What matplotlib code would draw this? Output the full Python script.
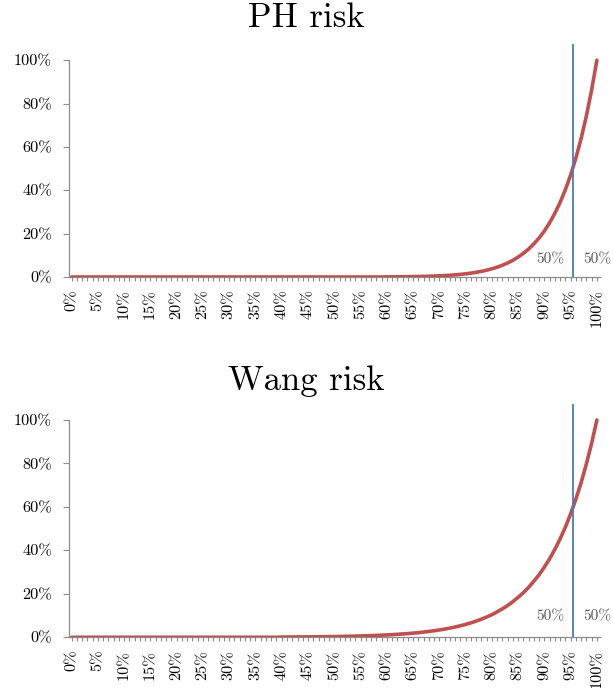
import numpy as np
import matplotlib.pyplot as plt

plt.rcParams['font.family'] = ['cmr10', 'DejaVu Serif']
plt.rcParams['axes.formatter.use_mathtext'] = True

# confidence levels 0%..100% in 1% steps
levels = list(range(0, 101))

# PH risk curve, values from 60% to 100% (earlier ones are ~0)
ph_tail = [0.00055, 0.0007, 0.00089, 0.00112, 0.00141, 0.00178, 0.00222, 0.00278,
           0.00345, 0.00427, 0.00528, 0.0065, 0.008, 0.0098, 0.012, 0.0146,
           0.0177, 0.0215, 0.0259, 0.0313, 0.0376, 0.0451, 0.0541, 0.0646,
           0.0771, 0.0917, 0.109, 0.129, 0.153, 0.180, 0.212, 0.250, 0.294,
           0.344, 0.403, 0.470, 0.549, 0.639, 0.743, 0.863, 1.0]
ph_values = [0.0] * 60 + ph_tail

# Wang risk curve, values from 40% to 100%
wang_tail = [0.0011, 0.0012, 0.0014, 0.0016, 0.0017, 0.0019, 0.0022, 0.0024,
             0.0027, 0.0031, 0.0035, 0.0039, 0.0044, 0.0049, 0.0055, 0.0062,
             0.0069, 0.0078, 0.0087, 0.0097, 0.0109, 0.0122, 0.0136, 0.0153,
             0.0171, 0.0191, 0.0214, 0.0240, 0.0269, 0.0301, 0.0337, 0.0377,
             0.0422, 0.0473, 0.0530, 0.0593, 0.0664, 0.0743, 0.0833, 0.0932,
             0.104, 0.117, 0.131, 0.146, 0.164, 0.184, 0.205, 0.230, 0.258,
             0.288, 0.323, 0.361, 0.405, 0.453, 0.507, 0.568, 0.636, 0.712,
             0.798, 0.893, 1.0]
wang_values = [0.0] * 40 + wang_tail

titles = ['PH risk', 'Wang risk']
cutoff = 95.4
cut_label = '50%'
xtick_vals = list(range(0, 101, 5))
xtick_labels = [f'{v}%' for v in xtick_vals]
ytick_vals = [0, 0.2, 0.4, 0.6, 0.8, 1.0]
ytick_labels = [f'{int(v * 100)}%' for v in ytick_vals]

red = '#C0504D'
blue = '#4A7EBB'
gray = '#8C8C8C'

fig = plt.figure(figsize=(6.13, 6.88), dpi=100)
ax_top = fig.add_axes([0.1126, 0.5974, 0.8654, 0.3387])
ax_bot = fig.add_axes([0.1126, 0.0737, 0.8654, 0.3395])

panels = [(ax_top, ph_values, 0.082, 0.974), (ax_bot, wang_values, 0.098, 0.446)]
for (ax, vals, txt_y, title_y), title in zip(panels, titles):
    ax.plot(levels, vals, color=red, lw=2.6, solid_capstyle='round', zorder=3)
    ax.axvline(cutoff, color=blue, lw=1.3, zorder=4)
    ax.set_xlim(-0.5, 100.5)
    ax.set_ylim(0, 1.075)
    for s in ['top', 'right']:
        ax.spines[s].set_visible(False)
    for s in ['left', 'bottom']:
        ax.spines[s].set_color(gray)
        ax.spines[s].set_linewidth(0.9)
    ax.spines['left'].set_bounds(0, 1)

    ax.set_yticks(ytick_vals)
    ax.set_yticklabels(ytick_labels, fontsize=11.7)
    ax.set_xticks(xtick_vals)
    ax.set_xticklabels(xtick_labels, fontsize=11.7, rotation=90)
    ax.set_xticks(levels, minor=True)
    ax.tick_params(axis='y', length=4.3, width=0.8, color=gray, pad=8)
    ax.tick_params(axis='x', which='both', length=3, width=0.8, color=gray, pad=6)

    ax.text(cutoff - 1.5, txt_y, cut_label, ha='right', va='center', fontsize=11, color='#595959')
    ax.text(cutoff + 2.0, txt_y, cut_label, ha='left', va='center', fontsize=11, color='#595959')

    fig.text(0.5, title_y, title, ha='center', va='center', fontsize=25)

fig.savefig('out.png', dpi=100)
